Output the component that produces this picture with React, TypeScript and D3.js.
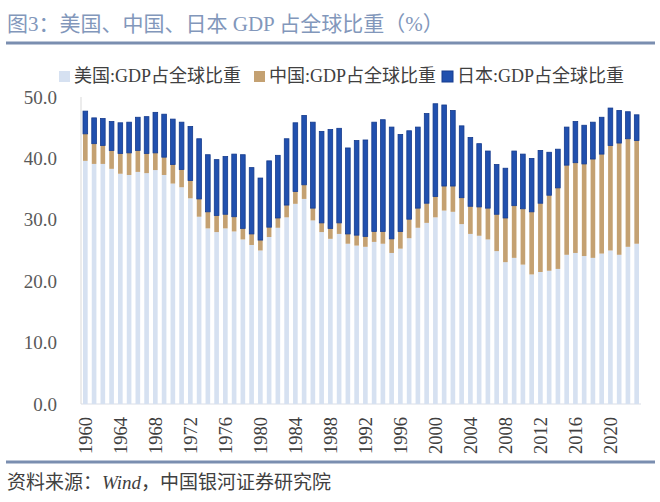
import React, { useEffect } from "react";
import * as d3 from "d3";

// 数据：美国、中国、日本 GDP 占全球比重（%），1960-2023
const years = d3.range(1960, 2024);

const usShare = [
  39.6, 39.1, 39.1, 38.3, 37.5, 37.3, 37.8, 37.6, 38.1, 37.3,
  35.9, 35.3, 33.5, 30.5, 28.6, 28.0, 28.6, 28.1, 26.8, 25.9,
  25.0, 27.2, 28.7, 30.4, 32.6, 33.4, 29.9, 28.0, 26.9, 27.7,
  26.1, 25.8, 25.6, 26.4, 26.1, 24.6, 25.3, 27.0, 28.7, 29.5,
  30.4, 31.5, 31.3, 29.3, 27.7, 27.4, 26.8, 24.9, 23.1, 23.8,
  22.7, 21.1, 21.5, 21.7, 22.0, 24.3, 24.6, 24.1, 23.8, 24.5,
  25.0, 24.3, 25.6, 26.1,
];

const chinaShare = [
  4.4, 3.3, 3.0, 3.0, 3.3, 3.6, 3.5, 3.2, 2.8, 2.9,
  3.1, 2.9, 2.9, 2.9, 2.7, 2.7, 2.3, 2.4, 1.8, 1.8,
  1.7, 1.6, 1.6, 2.0, 2.0, 2.3, 2.0, 1.5, 1.7, 1.8,
  1.6, 1.7, 1.7, 1.7, 2.0, 2.3, 2.8, 3.1, 3.2, 3.2,
  3.4, 4.0, 4.2, 4.3, 4.5, 4.7, 5.1, 6.0, 7.2, 8.5,
  9.1, 10.2, 11.2, 12.3, 13.2, 14.6, 14.7, 15.0, 16.1, 16.2,
  17.1, 18.2, 17.6, 16.8,
];

const japanShare = [
  3.7, 4.2, 4.4, 4.7, 5.0, 5.0, 5.4, 6.0, 6.6, 7.0,
  7.4, 7.7, 8.8, 9.8, 9.3, 9.1, 9.4, 10.2, 12.0, 10.8,
  10.1, 10.8, 10.2, 10.8, 11.2, 11.3, 14.0, 14.9, 16.1, 15.4,
  14.0, 15.4, 15.7, 17.8, 18.2, 18.2, 15.8, 14.4, 13.2, 14.6,
  15.1, 13.2, 12.3, 11.7, 11.2, 10.3, 9.3, 8.1, 8.1, 8.9,
  8.9, 8.7, 8.6, 7.0, 6.3, 6.2, 6.7, 6.3, 6.0, 6.0,
  6.1, 5.3, 4.4, 4.2,
];

const seriesNames = ["美国:GDP占全球比重", "中国:GDP占全球比重", "日本:GDP占全球比重"];
const yTicks = [0, 10, 20, 30, 40, 50];
const xTickYears = d3.range(1960, 2024, 4);

const W = 660;
const H = 502;
const plot = { left: 81, right: 641, top: 97, bottom: 404 };
const colors = ["#d6e1f1", "#c4a172", "#2150ae"];
const serif = '"Liberation Serif", "DejaVu Serif", "Noto Sans CJK SC", serif';

export default function App() {
  useEffect(() => {
    document.body.style.margin = "0";
  }, []);

  const x = d3
    .scaleBand<number>()
    .domain(years)
    .range([plot.left, plot.right])
    .paddingInner(0.47)
    .paddingOuter(0.23);

  const y = d3.scaleLinear().domain([0, 50]).range([plot.bottom, plot.top]);

  const rows = years.map((yr, i) => ({
    year: yr,
    us: usShare[i],
    cn: chinaShare[i],
    jp: japanShare[i],
  }));
  const stacked = d3.stack<any>().keys(["us", "cn", "jp"])(rows);

  const legendX = [59, 254, 442];

  return (
    <svg width={W} height={H} style={{ display: "block", background: "#fff" }}>
      <text x={7} y={31} fontSize={21} fill="#8297bb" fontFamily={serif}>
        图3：美国、中国、日本 GDP 占全球比重（%）
      </text>
      <line x1={6} x2={655} y1={43} y2={43} stroke="#7a8eb0" strokeWidth={3} />

      {seriesNames.map((name, i) => (
        <g key={name} transform={`translate(${legendX[i]},0)`}>
          <rect
            x={0}
            y={71}
            width={11}
            height={11}
            fill={colors[i]}
            stroke={i === 2 ? "#173c8f" : "none"}
          />
          <text x={15} y={82} fontSize={18} fill="#404040" fontFamily={serif}>
            {name}
          </text>
        </g>
      ))}

      {/* axes */}
      <line x1={plot.left} x2={plot.left} y1={plot.top} y2={plot.bottom} stroke="#d9d9d9" />
      <line x1={plot.left} x2={plot.right} y1={plot.bottom} y2={plot.bottom} stroke="#d9dde6" />

      {yTicks.map((t) => (
        <text
          key={t}
          x={57}
          y={y(t)}
          dy="0.35em"
          textAnchor="end"
          fontSize={19}
          fill="#595959"
          fontFamily={serif}
        >
          {t.toFixed(1)}
        </text>
      ))}

      {stacked.map((layer, li) => (
        <g key={layer.key}>
          {layer.map((d: any) => (
            <rect
              key={d.data.year}
              x={x(d.data.year)!}
              width={x.bandwidth()}
              y={y(d[1])}
              height={y(d[0]) - y(d[1])}
              fill={colors[li]}
              stroke={li === 2 ? "#143a8c" : "none"}
              strokeWidth={li === 2 ? 0.8 : 0}
            />
          ))}
        </g>
      ))}

      {xTickYears.map((yr) => (
        <text
          key={yr}
          transform={`translate(${x(yr)! + x.bandwidth() / 2},${plot.bottom + 13}) rotate(-90)`}
          dy="0.35em"
          textAnchor="end"
          fontSize={18.5}
          fill="#404040"
          fontFamily={serif}
        >
          {yr}
        </text>
      ))}

      <line x1={6} x2={655} y1={462} y2={462} stroke="#7a8eb0" strokeWidth={3} />
      <text x={7} y={489} fontSize={19} fill="#404040" fontFamily={serif}>
        资料来源：<tspan fontStyle="italic">Wind</tspan>，中国银河证券研究院
      </text>
    </svg>
  );
}
